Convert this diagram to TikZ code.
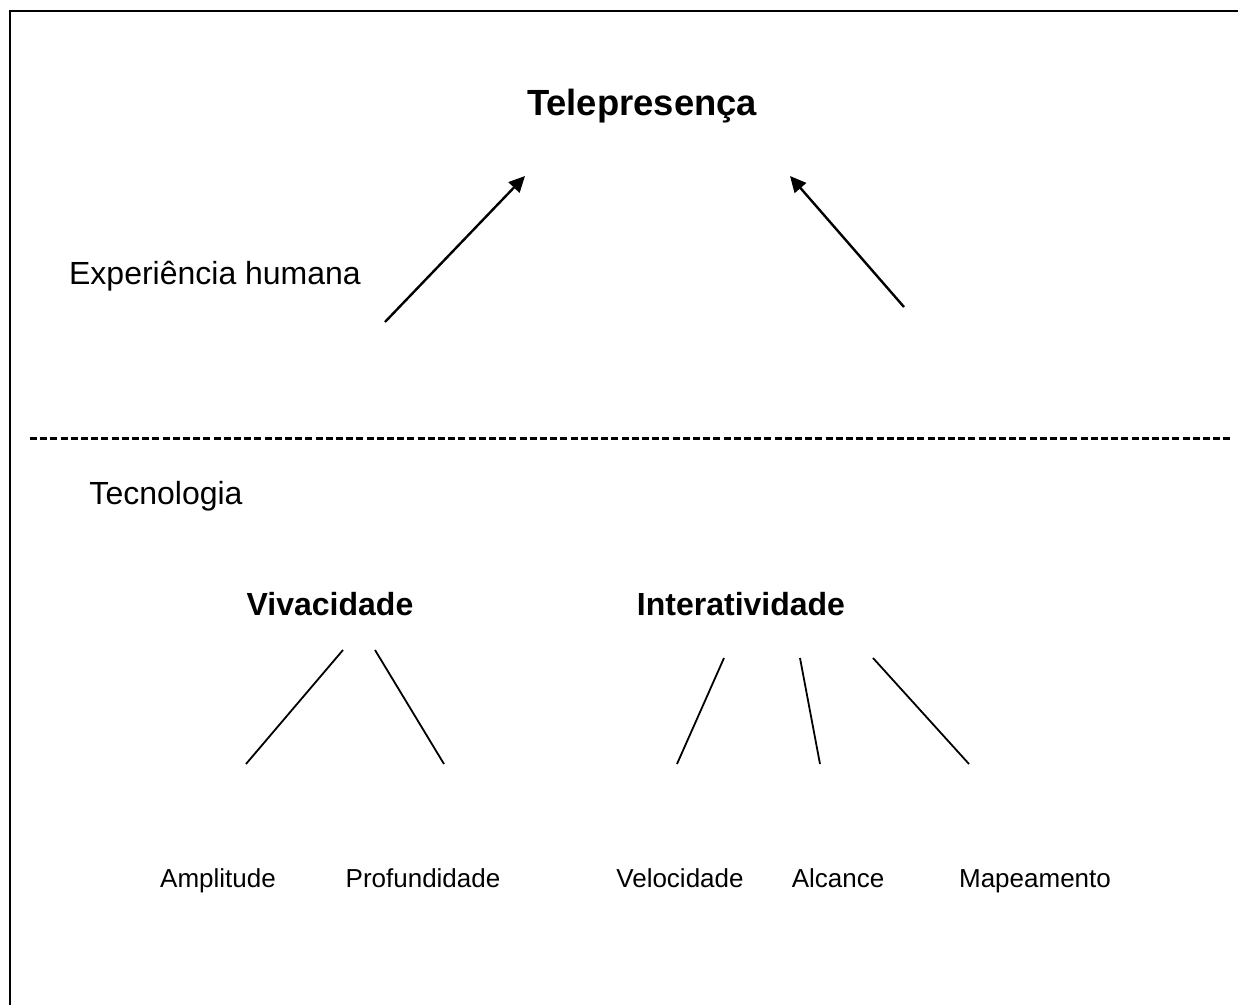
\documentclass[tikz,border=0pt]{standalone}
\usepackage{fontspec}
\setmainfont{Liberation Sans}
\usepackage{tikz}
\usetikzlibrary{arrows.meta}

\begin{document}
\begin{tikzpicture}[x=0.5pt, y=-0.5pt,
  toptitle/.style={font=\bfseries\fontsize{18.2}{22}\selectfont, inner sep=0pt, anchor=base},
  areatext/.style={font=\fontsize{16}{19}\selectfont, inner sep=0pt, anchor=base},
  branch/.style={font=\bfseries\fontsize{16}{19}\selectfont, inner sep=0pt, anchor=base},
  leaf/.style={font=\fontsize{13}{16}\selectfont, inner sep=0pt, anchor=base},
  upline/.style={line width=1.2pt, -{Triangle[length=8pt,width=7.5pt]}},
  twig/.style={line width=0.9pt}]
  \useasboundingbox (0,0) rectangle (1238,1005);

  % Frame
  \draw[line width=1.1pt] (10,1005) -- (10,11) -- (1238,11);

  % Human experience
  \node[toptitle] (tele) at (642,116) {Telepresença};
  \node[areatext] (exp) at (215,285) {Experiência humana};
  \coordinate (lfoot) at (385,322);
  \coordinate (ltip) at (525,176);
  \coordinate (rfoot) at (904,307);
  \coordinate (rtip) at (790,176);
  \draw[upline] (lfoot) -- (ltip);
  \draw[upline] (rfoot) -- (rtip);

  % Divider
  \coordinate (divl) at (30,439);
  \coordinate (divr) at (1231,439);
  \draw[line width=1.5pt, dash pattern=on 3.5pt off 1.6pt] (divl) -- (divr);

  % Technology
  \node[areatext] (tec) at (166,505) {Tecnologia};
  \node[branch] (viv) at (330,616) {Vivacidade};
  \node[branch] (inter) at (741,616) {Interatividade};

  % Leaves
  \foreach \name/\x/\txt in {ampl/218/Amplitude, prof/423/Profundidade,
    vel/680/Velocidade, alc/838/Alcance, mapa/1035/Mapeamento}{
    \node[leaf] (\name) at (\x,887) {\txt};
  }

  % Branches
  \foreach \name/\xa/\ya/\xb/\yb in {a/343/650/246/764, b/375/650/444/764,
    c/724/658/677/764, d/800/658/820/764, e/873/658/969/764}{
    \coordinate (\name top) at (\xa,\ya);
    \coordinate (\name bot) at (\xb,\yb);
    \draw[twig] (\name top) -- (\name bot);
  }
\end{tikzpicture}
\end{document}
